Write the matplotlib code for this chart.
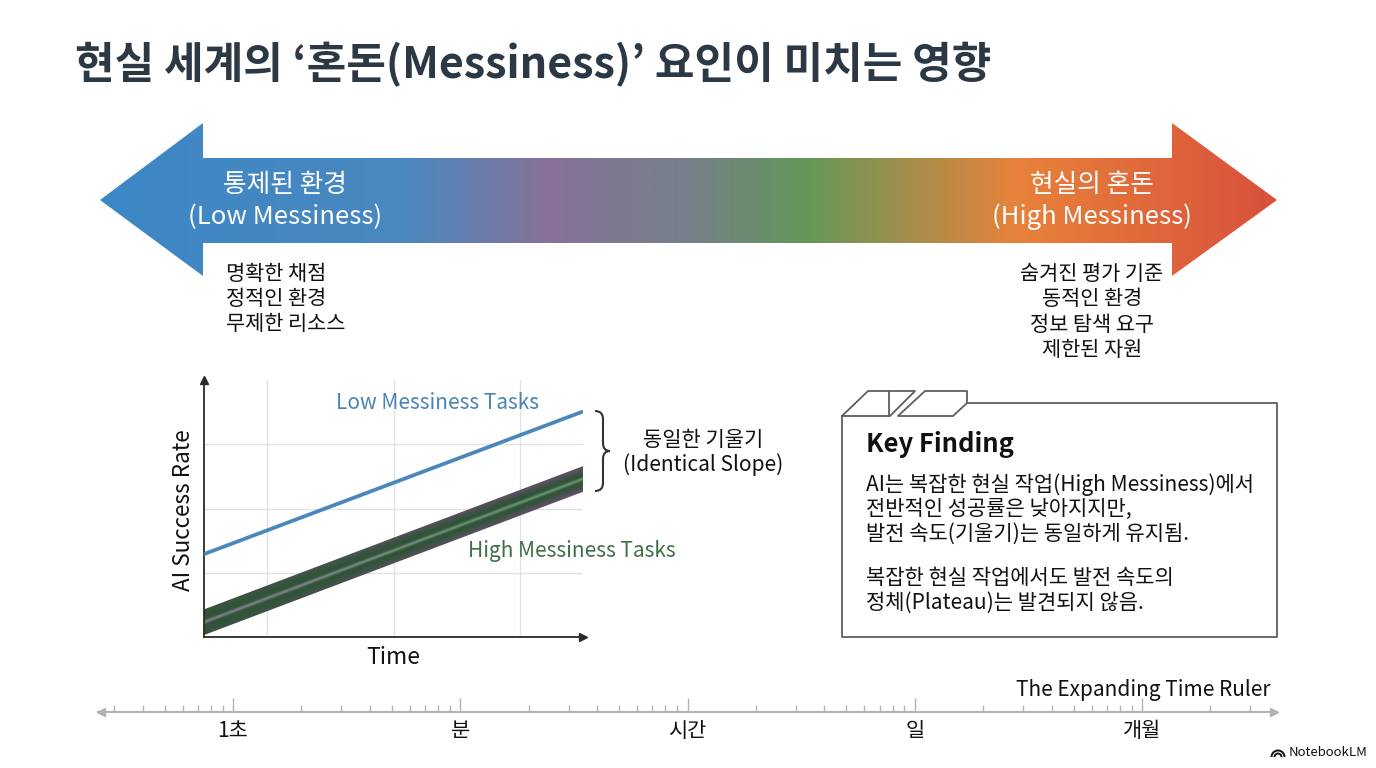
import numpy as np
import matplotlib.pyplot as plt
from matplotlib.patches import Polygon, PathPatch, Arc
from matplotlib.path import Path
from matplotlib.colors import LinearSegmentedColormap, to_rgb
from matplotlib.ticker import LogLocator, NullFormatter

plt.rcParams['font.family'] = ['Noto Sans CJK KR', 'DejaVu Sans']

# ---- data / text ----
title = "현실 세계의 ‘혼돈(Messiness)’ 요인이 미치는 영향"
left_head = ["통제된 환경", "(Low Messiness)"]
right_head = ["현실의 혼돈", "(High Messiness)"]
left_items = ["명확한 채점", "정적인 환경", "무제한 리소스"]
right_items = ["숨겨진 평가 기준", "동적인 환경", "정보 탐색 요구", "제한된 자원"]

time = np.array([0.0, 3.0])
low_mess = np.array([1.29, 3.51])
high_mess = np.array([0.23, 2.46])
high_spread = 0.2

ruler_values = [1, 10, 100, 1000, 10000]
ruler_labels = ["1초", "분", "시간", "일", "개월"]

slope_note = ["동일한 기울기", "(Identical Slope)"]
finding_title = "Key Finding"
finding_lines = ["AI는 복잡한 현실 작업(High Messiness)에서",
                 "전반적인 성공률은 낮아지지만,",
                 "발전 속도(기울기)는 동일하게 유지됨.",
                 "복잡한 현실 작업에서도 발전 속도의",
                 "정체(Plateau)는 발견되지 않음."]

fig = plt.figure(figsize=(13.76, 7.68), dpi=100)
bg = fig.add_axes([0, 0, 1, 1])
bg.set_xlim(0, 1376)
bg.set_ylim(768, 0)
bg.axis('off')

bg.text(75, 65, title, fontsize=31, fontweight='bold', color='#2c3844',
        ha='left', va='center')

# big gradient double arrow
arrow_pts = [(100, 200), (203, 123), (203, 158), (1172, 158), (1172, 123),
             (1277, 200), (1172, 276), (1172, 243), (203, 243), (203, 276)]
arrow = Polygon(arrow_pts, closed=True, facecolor='none', edgecolor='none')
bg.add_patch(arrow)
cmap = LinearSegmentedColormap.from_list('mess', [
    (0.0, '#3c87c6'), (0.26, '#4a88bf'), (0.38, '#88729a'),
    (0.50, '#76808a'), (0.60, '#639858'), (0.69, '#a68d4c'),
    (0.78, '#e8823a'), (1.0, '#d8503c')])
im = bg.imshow(np.linspace(0, 1, 512)[None, :], cmap=cmap, aspect='auto',
               extent=(100, 1277, 276, 123), zorder=1)
im.set_clip_path(arrow)

for i, s in enumerate(left_head):
    bg.text(285, 185 + 32 * i, s, fontsize=18.5, fontweight='medium', color='white',
            ha='center', va='center', zorder=3)
for i, s in enumerate(right_head):
    bg.text(1092, 185 + 32 * i, s, fontsize=18.5, fontweight='medium', color='white',
            ha='center', va='center', zorder=3)
for i, s in enumerate(left_items):
    bg.text(226, 274 + 25 * i, s, fontsize=15, color='#111111',
            ha='left', va='center')
for i, s in enumerate(right_items):
    bg.text(1092, 274 + 25.3 * i, s, fontsize=15, color='#111111',
            ha='center', va='center')

# ---- chart ----
ax = fig.add_axes([204 / 1376, 131 / 768, 379 / 1376, 257 / 768])
ax.patch.set_alpha(0)
ax.set_xlim(0, 3)
ax.set_ylim(0, 4)
ax.set_xticks([0.5, 1.5, 2.5])
ax.set_yticks([1, 2, 3])
ax.grid(color='#e2e2e2', lw=1)
ax.tick_params(length=0, labelbottom=False, labelleft=False)
for side in ['top', 'right']:
    ax.spines[side].set_visible(False)
for side in ['left', 'bottom']:
    ax.spines[side].set_color('#2a2a2a')
    ax.spines[side].set_linewidth(1.3)
ax.plot([0], [4], marker='^', ms=6, color='#2a2a2a', clip_on=False)
ax.plot([3], [0], marker='>', ms=6, color='#2a2a2a', clip_on=False)

ax.plot(time, low_mess, color='#4a87bc', lw=2.7, solid_capstyle='butt', zorder=3)

band = ax.fill_between(time, high_mess - high_spread, high_mess + high_spread,
                       facecolor='none', edgecolor='none')
gx, gy = np.meshgrid(np.linspace(0, 3, 600), np.linspace(0, 4, 500))
d = (gy - np.interp(gx, time, high_mess)) / high_spread
t = gx / 3.0
dark = np.array(to_rgb('#2f5438'))
purple = np.array(to_rgb('#6c4e70'))
c_left = np.array(to_rgb('#9a88a6'))
c_right = np.array(to_rgb('#7aa576'))
w_edge = (np.clip((np.abs(d) - 0.4) / 0.6, 0, 1) * (0.15 + 0.85 * t))[..., None]
w_mid = np.exp(-(d / 0.13) ** 2)[..., None]
mid_col = c_left * (1 - t[..., None]) + c_right * t[..., None]
rgb = dark * (1 - w_edge) + purple * w_edge
rgb = rgb * (1 - w_mid * 0.8) + mid_col * w_mid * 0.8
bim = ax.imshow(rgb, origin='lower', extent=(0, 3, 0, 4), aspect='auto', zorder=2)
bim.set_clip_path(band.get_paths()[0], transform=ax.transData)

bg.text(183, 510, "AI Success Rate", rotation=90, fontsize=16.2, color='#111111',
        ha='center', va='center')
bg.text(393, 658, "Time", fontsize=16.5, color='#111111', ha='center', va='center')
# series labels drawn on the chart axes so they sit above the grid
ax.text(438, 403, "Low Messiness Tasks", fontsize=15, color='#4a84b5',
        ha='center', va='center', transform=bg.transData, clip_on=False, zorder=4)
ax.text(572, 551, "High Messiness Tasks", fontsize=15, color='#3f6f48',
        ha='center', va='center', transform=bg.transData, clip_on=False, zorder=4)

# brace
bx, tip, top, bot = 595, 610, 411, 491
mid = (top + bot) / 2
verts = [(bx, top), (bx + 8, top), (bx + 8, top + 8), (bx + 8, mid - 8),
         (bx + 8, mid), (tip, mid), (bx + 8, mid), (bx + 8, mid + 8),
         (bx + 8, bot - 8), (bx + 8, bot), (bx, bot)]
codes = [Path.MOVETO, Path.CURVE3, Path.CURVE3, Path.LINETO, Path.CURVE3,
         Path.CURVE3, Path.CURVE3, Path.CURVE3, Path.LINETO, Path.CURVE3, Path.CURVE3]
bg.add_patch(PathPatch(Path(verts, codes), facecolor='none', edgecolor='#333333', lw=1.5))
for i, s in enumerate(slope_note):
    bg.text(703, 440 + 25 * i, s, fontsize=15.1, color='#111111',
            ha='center', va='center')

# key finding box
box_col = '#5a6068'
outline = [(842, 416), (842, 637), (1277, 637), (1277, 403), (967, 403)]
bg.plot(*zip(*outline), color=box_col, lw=1.3)
tab2 = [(967, 403), (967, 391), (925, 391), (898, 416), (953, 416), (967, 403)]
bg.plot(*zip(*tab2), color=box_col, lw=1.3)
tab1 = [(842, 416), (868, 391), (915, 391), (890, 416), (842, 416)]
bg.plot(*zip(*tab1), color=box_col, lw=1.3)
bg.plot([889, 889], [391, 416], color=box_col, lw=1.3)

bg.text(866, 445, finding_title, fontsize=18.4, fontweight='bold', color='#111111',
        ha='left', va='center')
line_y = [485, 509, 534, 578, 603]
for y, s in zip(line_y, finding_lines):
    bg.text(866, y, s, fontsize=15.1, color='#111111', ha='left', va='center')

# ---- time ruler ----
dec = (1142 - 233) / 4
rax = fig.add_axes([98 / 1376, (768 - 712) / 768, (1277 - 98) / 1376, 20 / 768])
rax.patch.set_alpha(0)
rax.set_xscale('log')
rax.set_xlim(10 ** (-(233 - 98) / dec), 10 ** ((1277 - 233) / dec))
rax.set_ylim(0, 1)
rax.set_yticks([])
for side in ['top', 'left', 'right']:
    rax.spines[side].set_visible(False)
rax.spines['bottom'].set_color('#b3b3b3')
rax.spines['bottom'].set_linewidth(1.5)
rax.set_xticks(ruler_values, ruler_labels)
rax.xaxis.set_minor_locator(LogLocator(base=10, subs=np.arange(2, 10)))
rax.xaxis.set_minor_formatter(NullFormatter())
rax.tick_params(axis='x', which='major', direction='in', length=10, width=1,
                color='#b3b3b3', labelsize=15, pad=6, labelcolor='#111111')
rax.tick_params(axis='x', which='minor', direction='in', length=5, width=1,
                color='#b3b3b3')
bg.plot([101], [712], marker='<', ms=6, color='#b3b3b3')
bg.plot([1274], [712], marker='>', ms=6, color='#b3b3b3')
bg.text(1270, 690, "The Expanding Time Ruler", fontsize=15, color='#111111',
        ha='right', va='center')

# footer mark
for r in (3.5, 6.5):
    bg.add_patch(Arc((1278, 757), 2 * r, 2 * r, theta1=180, theta2=360,
                     color='#111111', lw=1.4))
bg.text(1289, 752, "NotebookLM", fontsize=9.5, fontweight='medium', color='#111111',
        ha='left', va='center')

fig.savefig('out.png', dpi=100)
